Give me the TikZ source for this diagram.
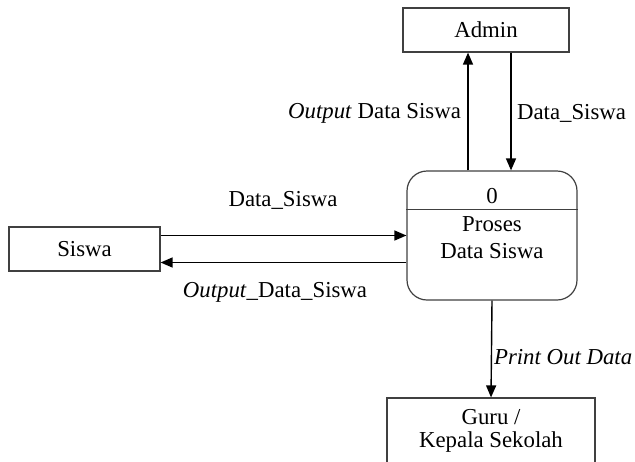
\documentclass[tikz,border=0pt]{standalone}
\usepackage{fontspec}
\setmainfont{Liberation Serif}
\usetikzlibrary{calc,arrows.meta}

\tikzset{
  every node/.style={font=\fontsize{11.4}{13.5}\selectfont},
  entity/.style={draw=black!75, line width=0.6pt, align=center, inner sep=0pt},
  process/.style={draw=black!75, line width=0.6pt, rounded corners=10pt, align=center,
    minimum width=85pt, minimum height=64.5pt, inner sep=0pt},
  flow/.style={line width=0.7pt, -{Triangle[length=6pt,width=5pt]}}
}

\begin{document}
\begin{tikzpicture}[x=0.5pt, y=-0.5pt]
            \useasboundingbox (0, 0) rectangle (635, 461);
            \node[entity, minimum width=83pt, minimum height=22pt] (admin) at (486, 30) {Admin};
            \node[entity, minimum width=75.5pt, minimum height=22pt] (siswa) at (84.5, 249) {Siswa};
            \node[entity, minimum width=104pt, minimum height=33pt, font=\fontsize{11.4}{11.5}\selectfont] (guru) at (491, 431) {Guru /\\Kepala Sekolah};
            \node[process] (proc) at (492, 235.5) {};
            \node (procno) at ($(proc.north)+(0, 26)$) {0};
            \node[align=center] (procname) at ($(proc.north)+(0, 67)$) {Proses\\Data Siswa};
            \draw[black!75, line width=0.6pt] ($(proc.north west)+(0, 39)$) -- ($(proc.north east)+(0, 39)$);
            % connector feet on the process box
            \coordinate (upfoot) at ($(proc.north)+(-24, 0)$);
            \coordinate (downfoot) at ($(proc.north)+(19, 0)$);
            \coordinate (backfoot) at ($(proc.west)+(0, 27)$);
            \draw[flow] (upfoot) -- (upfoot |- admin.south);
            \draw[flow] (downfoot |- admin.south) -- (downfoot);
            \draw[flow] (siswa.east |- proc.west) -- (proc.west);
            \draw[flow] (backfoot) -- (backfoot -| siswa.east);
            \draw[flow] (proc.south) -- (guru.north);
            \node[left] (lbloutadmin) at (468, 113) {\textit{Output} Data Siswa};
            \node[right] (lbladmin) at (510, 113) {Data\_Siswa};
            \node (lblsiswa) at (283, 200) {Data\_Siswa};
            \node (lbloutsiswa) at (275, 292) {\textit{Output}\_Data\_Siswa};
            \node[right] (lblprint) at (487, 357) {\textit{Print Out Data}};
        \end{tikzpicture}
\end{document}
